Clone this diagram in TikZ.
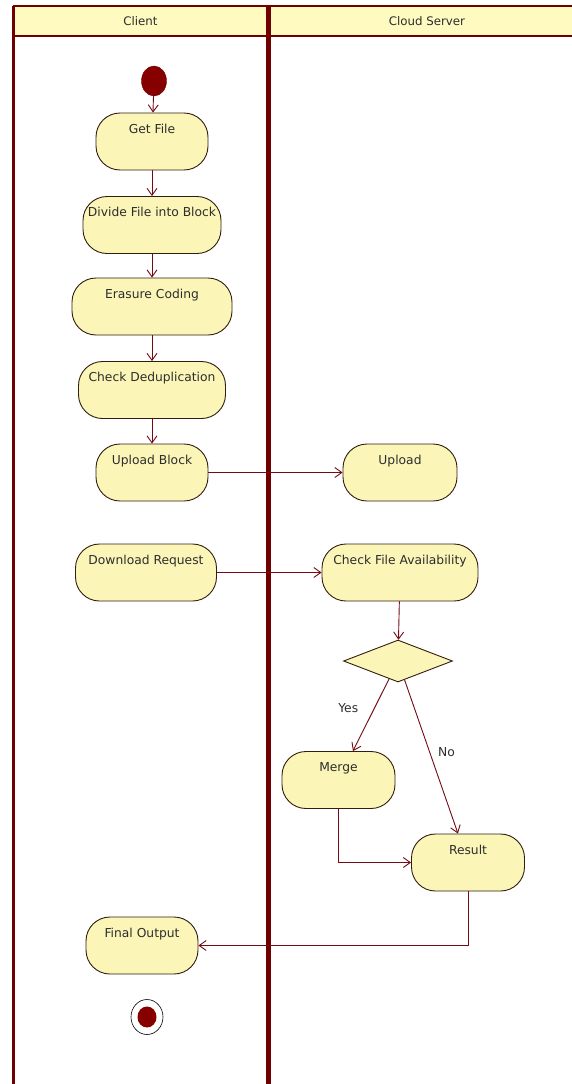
\documentclass[tikz,border=0pt]{standalone}
\usepackage{fontspec}
\setmainfont{DejaVu Sans}
\usetikzlibrary{arrows.meta}
\usetikzlibrary{shapes.geometric}
\definecolor{lanered}{RGB}{110,0,0}
\definecolor{headfill}{RGB}{255,250,192}
\definecolor{actfill}{RGB}{251,245,184}
\definecolor{actline}{RGB}{50,30,15}
\definecolor{flowred}{RGB}{115,10,20}
\definecolor{dotred}{RGB}{135,0,0}
\definecolor{textgray}{RGB}{45,45,45}
\tikzset{
 activity/.style={draw=actline, fill=actfill, rounded corners=24pt, line width=.9pt,
   minimum height=57pt, inner xsep=2pt, inner ysep=0pt, text height=20pt, text depth=37pt, text=textgray,
   font=\fontsize{12.3}{14}\selectfont},
 decision/.style={diamond, draw=actline, fill=actfill, line width=.9pt,
   minimum width=109pt, minimum height=42pt, inner sep=0pt},
 flow/.style={draw=flowred, line width=.9pt, ->, >={Straight Barb[length=7pt,width=10pt]}},
 guard/.style={text=textgray, inner sep=2pt, font=\fontsize{12.3}{14}\selectfont}
}

\begin{document}
\begin{tikzpicture}[x=1pt, y=-1pt, font=\fontsize{11.8}{13}\selectfont]
\useasboundingbox (0,0) rectangle (572,1084);
\fill[headfill] (13,6) rectangle (572,36);
\draw[lanered, line width=2pt] (13,6) -- (572,6) (13,36) -- (572,36);
\draw[lanered, line width=3pt] (13,6) -- (13,1084);
\draw[lanered, line width=5pt] (268,6) -- (268,1084);
\node[text=textgray] (client) at (140.5,21) {Client};
\node[text=textgray] (cloud) at (427,21) {Cloud Server};

\node[ellipse, draw=lanered, fill=dotred, minimum width=25pt, minimum height=30pt, inner sep=0pt] (start) at (154,81) {};
\node[activity, minimum width=112pt] (getfile) at (152,141.5) {Get File};
\node[activity, minimum width=138pt] (divide) at (152,225) {Divide File into Block};
\node[activity, minimum width=160pt] (erasure) at (152,306.5) {Erasure Coding};
\node[activity, minimum width=147pt] (dedup) at (152,390) {Check Deduplication};
\node[activity, minimum width=112pt] (uploadblock) at (152,472.5) {Upload Block};
\node[activity, minimum width=114pt] (upload) at (400,472.5) {Upload};
\node[activity, minimum width=141pt] (download) at (146,572.5) {Download Request};
\node[activity, minimum width=156pt] (avail) at (400,572.5) {Check File Availability};
\node[decision] (decide) at (398,661) {};
\node[activity, minimum width=113pt] (merge) at (338.5,780) {Merge};
\node[activity, minimum width=113pt] (result) at (468,862.5) {Result};
\node[activity, minimum width=112pt] (final) at (142,945.5) {Final Output};
\node[ellipse, draw=black, line width=.6pt, minimum width=32pt, minimum height=35pt, inner sep=0pt] (stop) at (147,1017) {};
\node[ellipse, fill=dotred, minimum width=19pt, minimum height=21pt, inner sep=0pt] (stopdot) at (stop) {};

\draw[flow] (start) -- (getfile);
\foreach \a/\b in {getfile/divide, divide/erasure, erasure/dedup, dedup/uploadblock, uploadblock/upload, download/avail, avail/decide}
 \draw[flow] (\a) -- (\b);
\draw[flow] (decide) -- node[guard, left=14pt, pos=.4] (yes) {Yes} (merge);
\draw[flow] (decide) -- node[guard, right=6pt, pos=.47] (no) {No} (result);
\draw[flow] (merge) |- (result);
\draw[flow] (result) |- (final);
\end{tikzpicture}
\end{document}
